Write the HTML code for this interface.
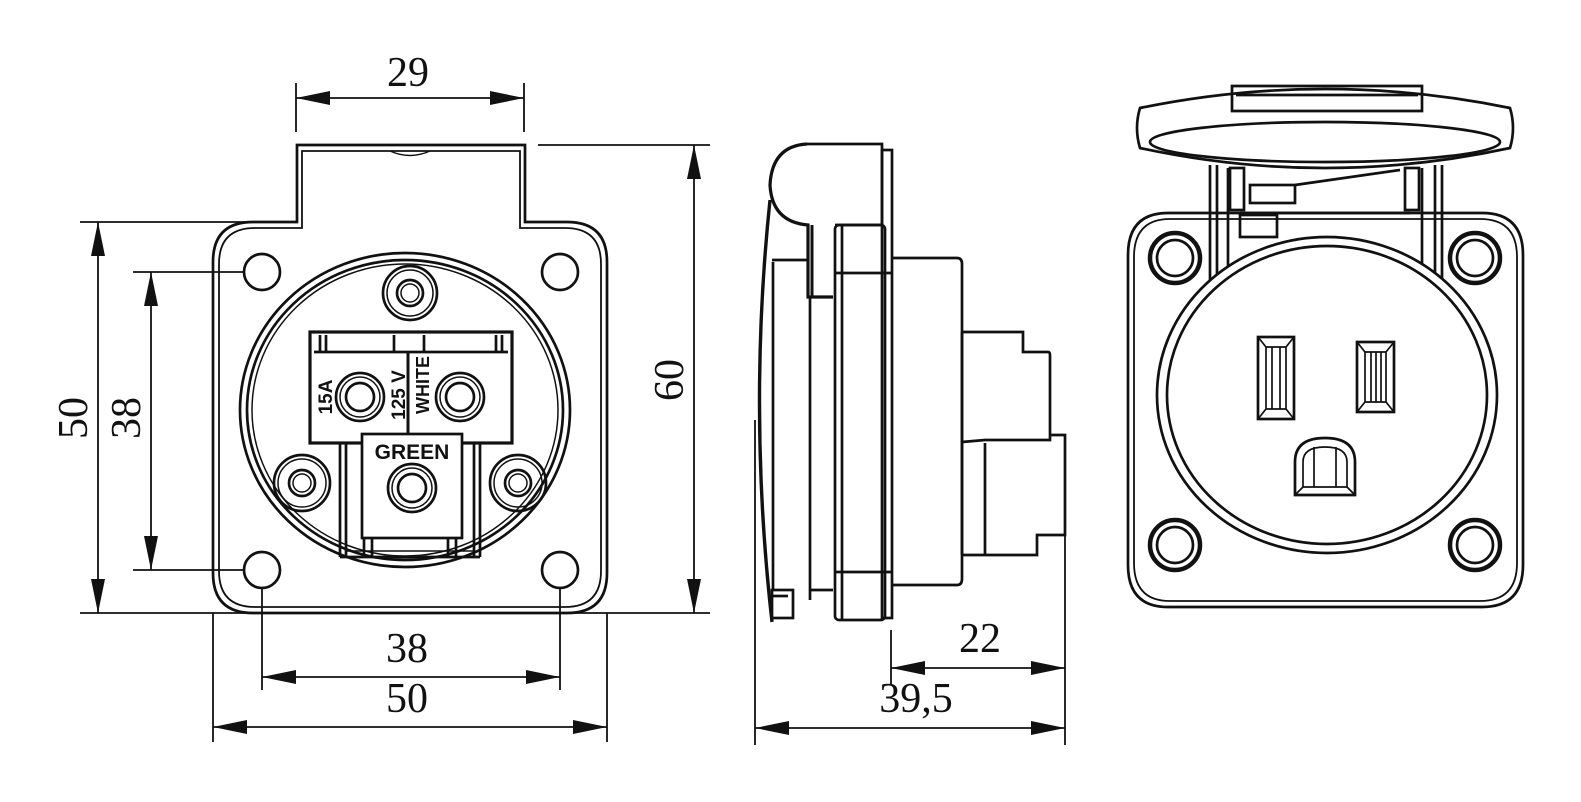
<!DOCTYPE html>
<html><head><meta charset="utf-8"><style>html,body{margin:0;padding:0;background:#fff}svg{display:block}</style></head><body>
<svg width="1581" height="802" viewBox="0 0 1581 802" xmlns="http://www.w3.org/2000/svg">
<defs>
<marker id="a" viewBox="0 0 34 16" refX="34" refY="8" markerWidth="34" markerHeight="16" markerUnits="userSpaceOnUse" orient="auto-start-reverse"><path d="M0,1 L34,8 L0,15 Z" fill="#111"/></marker>
</defs>
<g fill="none" stroke="#111" stroke-width="2.7" font-family="Liberation Serif, serif">
<!-- LEFT VIEW -->
<path d="M213,262 Q213,222 253,222 L297,222 L297,145 L525,145 L525,222 L567,222 Q607,222 607,262 L607,573 Q607,613 567,613 L253,613 Q213,613 213,573 Z"/>
<path d="M219,264 Q219,228 255,228 L302,228 L302,151 L520,151 L520,228 L565,228 Q601,228 601,264 L601,571 Q601,607 565,607 L255,607 Q219,607 219,571 Z" stroke-width="1.8"/>
<path d="M390,151 Q410,160 430,151" stroke-width="1.5"/>
<circle cx="262" cy="272" r="18"/><circle cx="560" cy="272" r="18"/><circle cx="262" cy="570" r="18"/><circle cx="560" cy="570" r="18"/>
<ellipse cx="405" cy="410" rx="165" ry="157"/><ellipse cx="405" cy="410" rx="158" ry="150"/><ellipse cx="405" cy="410" rx="153" ry="146" stroke-width="1.5"/>
<circle cx="410" cy="293" r="27"/><circle cx="410" cy="293" r="23" stroke-width="1.5"/><circle cx="410" cy="293" r="13"/><circle cx="410" cy="293" r="9" stroke-width="1.5"/>
<circle cx="302" cy="483" r="28"/><circle cx="302" cy="483" r="24" stroke-width="1.5"/><circle cx="302" cy="483" r="13"/><circle cx="302" cy="483" r="9" stroke-width="1.5"/>
<circle cx="518" cy="483" r="28"/><circle cx="518" cy="483" r="24" stroke-width="1.5"/><circle cx="518" cy="483" r="13"/><circle cx="518" cy="483" r="9" stroke-width="1.5"/>
<rect x="310" y="332" width="202" height="111" stroke-width="3.2"/>
<line x1="314" y1="352" x2="508" y2="352"/>
<line x1="320" y1="335" x2="320" y2="352"/><line x1="326" y1="335" x2="326" y2="352"/><line x1="394" y1="335" x2="394" y2="352"/><line x1="424" y1="335" x2="424" y2="352"/><line x1="496" y1="335" x2="496" y2="352"/><line x1="502" y1="335" x2="502" y2="352"/>
<line x1="408" y1="352" x2="408" y2="434" stroke-width="3"/>
<circle cx="360" cy="397" r="24"/><circle cx="360" cy="397" r="20" stroke-width="1.5"/><circle cx="360" cy="397" r="14"/>
<circle cx="460" cy="397" r="24"/><circle cx="460" cy="397" r="20" stroke-width="1.5"/><circle cx="460" cy="397" r="14"/>
<rect x="362" y="434" width="100" height="104" fill="#fff"/>
<line x1="340" y1="443" x2="340" y2="557"/><line x1="346" y1="443" x2="346" y2="557"/><line x1="480" y1="443" x2="480" y2="557"/><line x1="474" y1="443" x2="474" y2="557"/>
<line x1="340" y1="557" x2="480" y2="557"/><line x1="346" y1="551" x2="474" y2="551" stroke-width="1.5"/>
<line x1="364" y1="538" x2="364" y2="557"/><line x1="372" y1="538" x2="372" y2="557"/><line x1="448" y1="538" x2="448" y2="557"/><line x1="456" y1="538" x2="456" y2="557"/>
<circle cx="412" cy="488" r="24"/><circle cx="412" cy="488" r="20" stroke-width="1.5"/><circle cx="412" cy="488" r="14"/>
<g fill="#111" stroke="none" font-family="Liberation Sans, sans-serif" font-weight="bold">
<text x="412" y="459" font-size="21" text-anchor="middle">GREEN</text>
<text transform="translate(332,397) rotate(-90)" font-size="19" text-anchor="middle">15A</text>
<text transform="translate(405,395) rotate(-90)" font-size="19" text-anchor="middle">125 V</text>
<text transform="translate(429,385) rotate(-90)" font-size="18" text-anchor="middle">WHITE</text>
</g>
<!-- left dims -->
<g stroke-width="1.8">
<line x1="296" y1="83" x2="296" y2="132"/><line x1="524" y1="83" x2="524" y2="132"/>
<line x1="296" y1="98" x2="524" y2="98" marker-start="url(#a)" marker-end="url(#a)"/>
<line x1="538" y1="145" x2="710" y2="145"/><line x1="80" y1="613" x2="710" y2="613"/>
<line x1="694" y1="145" x2="694" y2="613" marker-start="url(#a)" marker-end="url(#a)"/>
<line x1="80" y1="222" x2="245" y2="222"/>
<line x1="98" y1="222" x2="98" y2="613" marker-start="url(#a)" marker-end="url(#a)"/>
<line x1="133" y1="272" x2="244" y2="272"/><line x1="133" y1="570" x2="244" y2="570"/>
<line x1="151" y1="272" x2="151" y2="570" marker-start="url(#a)" marker-end="url(#a)"/>
<line x1="213" y1="613" x2="213" y2="742"/><line x1="607" y1="613" x2="607" y2="742"/>
<line x1="262" y1="588" x2="262" y2="690"/><line x1="560" y1="588" x2="560" y2="690"/>
<line x1="262" y1="677" x2="560" y2="677" marker-start="url(#a)" marker-end="url(#a)"/>
<line x1="213" y1="727" x2="607" y2="727" marker-start="url(#a)" marker-end="url(#a)"/>
</g>
<!-- MIDDLE VIEW -->
<path d="M807,144 L882,144 L882,225 L835,225"/>
<path d="M807,144 Q772,146 770,185 Q772,222 808,225 L808,297 L833,297" stroke-width="3.2"/>
<line x1="812" y1="225" x2="812" y2="297" stroke-width="3"/>
<line x1="772" y1="260" x2="808" y2="260"/>
<path d="M770,200 Q748,410 772,622" stroke-width="3.4"/>
<line x1="773" y1="262" x2="773" y2="590"/>
<line x1="810" y1="297" x2="810" y2="600"/>
<line x1="810" y1="590" x2="833" y2="590"/>
<rect x="772" y="590" width="21" height="28"/><line x1="772" y1="596" x2="788" y2="596"/>
<rect x="882" y="150" width="10" height="468"/>
<rect x="835" y="225" width="50" height="395" rx="4"/>
<line x1="842" y1="225" x2="842" y2="620"/>
<line x1="835" y1="273" x2="892" y2="273"/><line x1="835" y1="572" x2="892" y2="572"/>
<path d="M892,258 L957,258 Q962,258 962,264 L962,579 Q962,585 957,585 L892,585"/>
<line x1="962" y1="332" x2="962" y2="555"/>
<path d="M962,332 L1023,332 L1023,352 L1048,352 Q1050,352 1050,355 L1050,440 L985,440 L962,442"/>
<path d="M1050,435 L1065,435 L1065,535 L1037,535 L1037,555 L962,555"/>
<line x1="985" y1="443" x2="985" y2="555"/>
<!-- middle dims -->
<g stroke-width="1.8">
<line x1="755" y1="420" x2="755" y2="745"/><line x1="1065" y1="535" x2="1065" y2="745"/>
<line x1="891" y1="630" x2="891" y2="685"/>
<line x1="891" y1="668" x2="1065" y2="668" marker-start="url(#a)" marker-end="url(#a)"/>
<line x1="755" y1="728" x2="1065" y2="728" marker-start="url(#a)" marker-end="url(#a)"/>
</g>
<!-- RIGHT VIEW -->
<path d="M1140,108 Q1325,70 1510,108 Q1516,128 1510,148 Q1325,188 1140,148 Q1134,128 1140,108 Z"/>
<ellipse cx="1325" cy="142" rx="175" ry="20"/>
<path d="M1232,86 L1422,86 L1422,111 L1232,111 Z"/><line x1="1236" y1="95" x2="1418" y2="95"/>
<line x1="1210" y1="165" x2="1210" y2="280"/><line x1="1217" y1="165" x2="1217" y2="280"/><line x1="1228" y1="168" x2="1228" y2="270"/>
<line x1="1442" y1="165" x2="1442" y2="280"/><line x1="1435" y1="165" x2="1435" y2="280"/><line x1="1422" y1="168" x2="1422" y2="270"/>
<line x1="1240" y1="213" x2="1410" y2="213"/>
<rect x="1230" y="168" width="14" height="42"/><rect x="1405" y="168" width="14" height="42"/>
<rect x="1240" y="215" width="37" height="22"/>
<rect x="1250" y="185" width="45" height="18"/><line x1="1295" y1="185" x2="1400" y2="170"/>
<path d="M1168,213 L1482,213 Q1523,213 1523,255 L1523,565 Q1523,607 1482,607 L1168,607 Q1128,607 1128,565 L1128,255 Q1128,213 1168,213 Z"/>
<path d="M1170,219 L1480,219 Q1517,219 1517,257 L1517,563 Q1517,601 1480,601 L1170,601 Q1134,601 1134,563 L1134,257 Q1134,219 1170,219 Z" stroke-width="1.8"/>
<g stroke-width="4.5"><circle cx="1175" cy="258" r="25"/><circle cx="1475" cy="258" r="25"/><circle cx="1175" cy="545" r="25"/><circle cx="1475" cy="545" r="25"/></g>
<circle cx="1175" cy="258" r="18"/><circle cx="1475" cy="258" r="18"/><circle cx="1175" cy="545" r="18"/><circle cx="1475" cy="545" r="18"/>
<ellipse cx="1327" cy="395" rx="170" ry="158" fill="#fff"/><ellipse cx="1327" cy="395" rx="160" ry="149"/>
<rect x="1258" y="337" width="36" height="82"/><path d="M1258,337 L1266,347 L1286,347 L1294,337 M1258,419 L1266,409 L1286,409 L1294,419 M1266,347 L1266,409 M1286,347 L1286,409 M1272,347 L1272,409 M1280,347 L1280,409" stroke-width="1.7"/>
<rect x="1357" y="342" width="37" height="70"/><path d="M1357,342 L1365,352 L1386,352 L1394,342 M1357,412 L1365,402 L1386,402 L1394,412 M1365,352 L1365,402 M1386,352 L1386,402 M1371,352 L1371,402 M1376,352 L1376,402 M1381,352 L1381,402" stroke-width="1.7"/>
<path d="M1295,495 L1295,462 Q1295,438 1325,438 Q1355,438 1355,462 L1355,495 Z"/>
<path d="M1303,487 L1303,462 Q1303,447 1325,447 Q1347,447 1347,462 L1347,487 Z M1295,495 L1303,487 M1355,495 L1347,487 M1314,447 L1314,487 M1336,447 L1336,487" stroke-width="1.7"/>
</g>
<g fill="#111" font-family="Liberation Serif, serif" font-size="42" text-anchor="middle">
<text x="408" y="86">29</text>
<text x="407" y="662">38</text>
<text x="407" y="712">50</text>
<text x="980" y="652">22</text>
<text x="916" y="712">39,5</text>
<text transform="translate(87,418) rotate(-90)">50</text>
<text transform="translate(140,418) rotate(-90)">38</text>
<text transform="translate(683,380) rotate(-90)">60</text>
</g>
</svg>
</body></html>
